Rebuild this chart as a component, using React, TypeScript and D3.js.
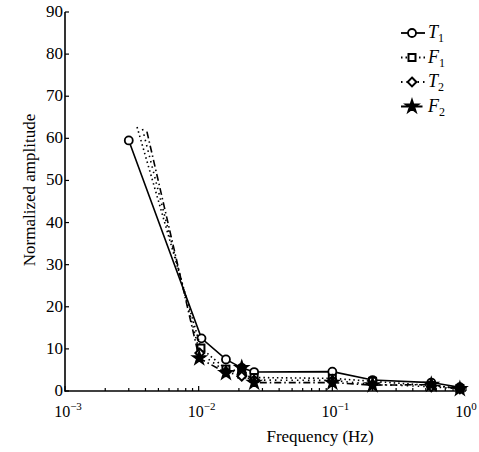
import React from "react";
import * as d3 from "d3";

const yTicks = [0, 10, 20, 30, 40, 50, 60, 70, 80, 90];
const xMajorExp = [-3, -2, -1, 0];

const t1Freq = [0.003, 0.0105, 0.016, 0.021, 0.026, 0.1, 0.2, 0.55, 0.9];
const t1Vals = [59.5, 12.5, 7.5, 5.5, 4.5, 4.6, 2.6, 2.0, 0.9];

const f1Freq = [0.00346, 0.0104, 0.016, 0.021, 0.026, 0.1, 0.2, 0.55, 0.9];
const f1Vals = [62.7, 10.2, 5.2, 4.0, 3.2, 3.0, 2.3, 1.3, 0.6];

const t2Freq = [0.0038, 0.0102, 0.016, 0.021, 0.026, 0.1, 0.2, 0.55, 0.9];
const t2Vals = [62.2, 9.0, 4.6, 3.5, 2.6, 2.5, 1.6, 1.0, 0.5];

const f2Freq = [0.0041, 0.0101, 0.016, 0.021, 0.026, 0.1, 0.2, 0.55, 0.9];
const f2Vals = [61.6, 7.8, 4.3, 5.5, 2.0, 2.0, 1.4, 1.5, 0.5];

const seriesNames = ["T", "F", "T", "F"];
const seriesSubs = ["1", "1", "2", "2"];
// index of the first point that carries a marker
const markerFrom = [0, 1, 1, 1];

const W = 479;
const H = 452;
const FONT = "'Liberation Serif', 'Times New Roman', 'DejaVu Serif', serif";

type S = { name: string; sub: string; freq: number[]; vals: number[]; dash: string; marker: string; from: number };

const series: S[] = [
  { name: seriesNames[0], sub: seriesSubs[0], freq: t1Freq, vals: t1Vals, dash: "none", marker: "circle", from: markerFrom[0] },
  { name: seriesNames[1], sub: seriesSubs[1], freq: f1Freq, vals: f1Vals, dash: "1.5,3", marker: "square", from: markerFrom[1] },
  { name: seriesNames[2], sub: seriesSubs[2], freq: t2Freq, vals: t2Vals, dash: "1.5,4", marker: "diamond", from: markerFrom[2] },
  { name: seriesNames[3], sub: seriesSubs[3], freq: f2Freq, vals: f2Vals, dash: "7,3,1.5,3", marker: "star", from: markerFrom[3] },
];

function Marker({ kind, x, y }: { kind: string; x: number; y: number }) {
  if (kind === "circle") {
    return <circle cx={x} cy={y} r={4} fill="white" stroke="black" strokeWidth={1.8} />;
  }
  if (kind === "square") {
    return <rect x={x - 3.5} y={y - 3.5} width={7} height={7} fill="white" stroke="black" strokeWidth={2} />;
  }
  if (kind === "diamond") {
    const p = d3.symbol(d3.symbolDiamond2, 50)();
    return <path d={p || ""} transform={`translate(${x},${y})`} fill="white" stroke="black" strokeWidth={2} />;
  }
  const p = d3.symbol(d3.symbolStar, 55)();
  return <path d={p || ""} transform={`translate(${x},${y})`} fill="black" stroke="black" strokeWidth={1.5} />;
}

export default function App() {
  const x = d3.scaleLog().domain([1e-3, 1]).range([65, 466]);
  const y = d3.scaleLinear().domain([0, 90]).range([391, 12]);
  const allTicks = x.ticks();
  const line = d3
    .line<[number, number]>()
    .x((d) => x(d[0]))
    .y((d) => y(d[1]));

  const x0 = x.range()[0];
  const y0 = y.range()[0];

  return (
    <svg
      width={W}
      height={H}
      style={{ position: "absolute", left: 0, top: 0, background: "white" }}
      fontFamily={FONT}
    >
      <rect width={W} height={H} fill="white" />
      {series.map((s, i) => (
        <g key={i}>
          <path
            d={line(s.freq.map((f, j) => [f, s.vals[j]] as [number, number])) || ""}
            fill="none"
            stroke="black"
            strokeWidth={1.6}
            strokeDasharray={s.dash}
          />
          {s.freq.map((f, j) =>
            j >= s.from ? <Marker key={j} kind={s.marker} x={x(f)} y={y(s.vals[j])} /> : null
          )}
        </g>
      ))}
      <line x1={x0} x2={x0} y1={y.range()[1]} y2={y0 + 0.8} stroke="black" strokeWidth={1.6} />
      <line x1={x0} x2={x.range()[1]} y1={y0} y2={y0} stroke="black" strokeWidth={1.6} />
      {yTicks.map((t) => (
        <g key={t}>
          <line x1={x0} x2={x0 + 4} y1={y(t)} y2={y(t)} stroke="black" strokeWidth={1.2} />
          <text x={x0 - 2} y={y(t) + 5} textAnchor="end" fontSize={17}>
            {t}
          </text>
        </g>
      ))}
      {allTicks.map((t, i) => {
        const e = Math.log10(t);
        const major = Math.abs(e - Math.round(e)) < 1e-6;
        return (
          <line
            key={i}
            x1={x(t)}
            x2={x(t)}
            y1={y0}
            y2={y0 - (major ? 5 : 3)}
            stroke="black"
            strokeWidth={1.2}
          />
        );
      })}
      {xMajorExp.map((e) => (
        <text key={e} x={x(Math.pow(10, e)) + (e === 0 ? 0 : 3)} y={417} textAnchor="middle" fontSize={16}>
          10
          <tspan dy={-7} fontSize={11}>
            {e < 0 ? "\u2212" + Math.abs(e) : String(e)}
          </tspan>
        </text>
      ))}
      <text x={320} y={442} textAnchor="middle" fontSize={17}>
        Frequency (Hz)
      </text>
      <text transform="translate(35,190) rotate(-90)" textAnchor="middle" fontSize={17}>
        Normalized amplitude
      </text>
      {series.map((s, i) => {
        const ly = 33 + i * 24.5;
        return (
          <g key={i}>
            <line x1={401} x2={425} y1={ly} y2={ly} stroke="black" strokeWidth={1.8} strokeDasharray={s.dash} />
            <Marker kind={s.marker} x={412} y={ly} />
            <text x={428} y={ly + 5} fontSize={18} fontStyle="italic">
              {s.name}
              <tspan dy={4} fontSize={12} fontStyle="normal">
                {s.sub}
              </tspan>
            </text>
          </g>
        );
      })}
    </svg>
  );
}
